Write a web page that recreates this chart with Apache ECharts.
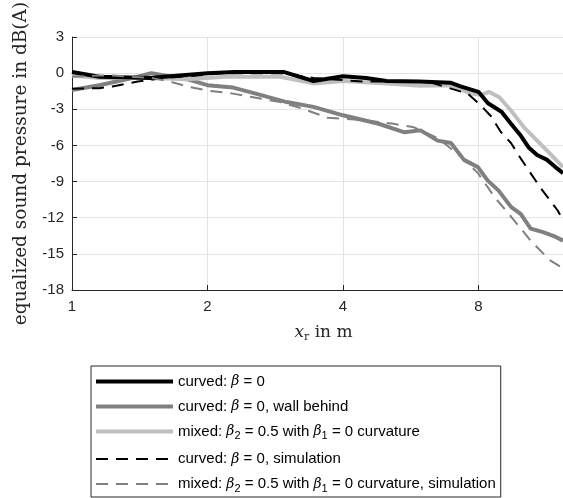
<!DOCTYPE html>
<html>
<head>
<meta charset="utf-8">
<script src="https://cdn.jsdelivr.net/npm/echarts@6/dist/echarts.min.js"></script>
<style>
  html, body { margin: 0; padding: 0; background: #fff; }
  #chart { width: 563px; height: 498px; }
</style>
</head>
<body>
<div id="chart"></div>
<script>
// x in m (log axis), y in dB
const curvedX = [1, 1.15, 1.49, 1.6, 2, 2.3, 2.6, 2.95, 3.44, 4.0, 4.5, 5.0, 5.9, 6.95, 7.3, 8.0, 8.4, 9.0, 9.45, 9.94, 10.36, 10.8, 11.37, 11.86, 12.33];
const curvedY = [0.1, -0.3, -0.4, -0.3, 0.0, 0.1, 0.1, 0.1, -0.65, -0.25, -0.4, -0.65, -0.7, -0.8, -1.1, -1.55, -2.5, -3.2, -4.2, -5.2, -6.2, -6.8, -7.2, -7.8, -8.3];

const wallX = [1, 1.15, 1.4, 1.5, 1.8, 2.0, 2.28, 2.5, 3.0, 3.44, 4.0, 4.8, 5.46, 5.95, 6.49, 6.95, 7.43, 7.98, 8.38, 8.87, 9.45, 9.94, 10.45, 11.13, 11.73, 12.33];
const wallY = [-1.4, -1.0, -0.3, 0.0, -0.5, -1.0, -1.2, -1.6, -2.4, -2.8, -3.5, -4.2, -4.9, -4.75, -5.6, -5.8, -7.2, -7.8, -8.9, -9.75, -11.1, -11.7, -12.9, -13.2, -13.5, -13.9];

const mixedX = [1, 1.15, 1.5, 1.8, 2.2, 2.9, 3.44, 4.0, 5.0, 5.95, 6.95, 7.7, 8.1, 8.44, 8.9, 9.45, 10.1, 10.8, 11.55, 12.33];
const mixedY = [-0.2, -0.4, -0.4, -0.5, -0.3, -0.3, -0.85, -0.65, -0.85, -1.05, -1.0, -1.7, -1.8, -1.55, -2.0, -3.1, -4.5, -5.6, -6.7, -7.8];

const curvedSimX = [1, 1.15, 1.23, 1.4, 1.6, 1.9, 2.14, 2.9, 3.44, 4.44, 6.17, 7.57, 8.11, 8.54, 8.98, 9.45, 9.94, 10.36, 10.98, 12.0, 12.33];
const curvedSimY = [-1.3, -1.25, -1.1, -0.7, -0.4, -0.2, 0.0, 0.0, -0.4, -0.7, -0.7, -1.7, -2.7, -3.6, -4.9, -5.8, -7.1, -8.1, -9.5, -11.4, -12.2];

const mixedSimX = [1, 1.15, 1.23, 1.5, 1.65, 1.8, 2.0, 2.28, 2.9, 3.22, 3.7, 4.44, 5.18, 5.75, 6.5, 7.3, 7.98, 8.69, 9.45, 10.45, 11.5, 12.33];
const mixedSimY = [-0.3, -0.2, -0.2, -0.4, -0.7, -1.1, -1.45, -1.7, -2.4, -2.9, -3.7, -3.9, -4.2, -4.5, -5.4, -6.9, -8.3, -10.3, -11.9, -13.9, -15.5, -16.2];

const seriesNames = [
  'curved: β = 0',
  'curved: β = 0, wall behind',
  'mixed: β2 = 0.5 with β1 = 0 curvature',
  'curved: β = 0, simulation',
  'mixed: β2 = 0.5 with β1 = 0 curvature, simulation'
];
const legendLabels = {
  'curved: β = 0': 'curved: {b|β} = 0',
  'curved: β = 0, wall behind': 'curved: {b|β} = 0, wall behind',
  'mixed: β2 = 0.5 with β1 = 0 curvature': 'mixed: {b|β}{s|2} = 0.5 with {b|β}{s|1} = 0 curvature',
  'curved: β = 0, simulation': 'curved: {b|β} = 0, simulation',
  'mixed: β2 = 0.5 with β1 = 0 curvature, simulation': 'mixed: {b|β}{s|2} = 0.5 with {b|β}{s|1} = 0 curvature, simulation'
};

function pairs(xs, ys) {
  return xs.map((x, i) => [x, ys[i]]);
}

function lineSeries(name, xs, ys, color, width, dashed, z) {
  return {
    name: name,
    type: 'line',
    data: pairs(xs, ys),
    symbol: 'none',
    z: z,
    lineStyle: { color: color, width: width, type: dashed ? [12, 8] : 'solid' },
    itemStyle: { color: color }
  };
}

const axisColor = '#262626';
const chart = echarts.init(document.getElementById('chart'));
chart.setOption({
  animation: false,
  textStyle: { fontFamily: 'Liberation Sans' },
  grid: { left: 72, top: 37, width: 491, height: 253, outerBoundsMode: 'none', containLabel: false },
  xAxis: {
    type: 'log',
    logBase: 2,
    min: 1,
    max: 12.33,
    name: '{i|x}{s|r} in m',
    nameLocation: 'middle',
    nameGap: 32,
    nameTextStyle: {
      fontFamily: 'DejaVu Serif', fontSize: 17, color: axisColor, padding: [0, 0, 0, 12],
      rich: {
        i: { fontFamily: 'DejaVu Serif', fontStyle: 'italic', fontSize: 17, color: axisColor },
        s: { fontFamily: 'DejaVu Serif', fontSize: 11, color: axisColor, verticalAlign: 'bottom', padding: [10, 0, 0, 0] }
      }
    },
    axisLine: { show: true, onZero: false, lineStyle: { color: axisColor, width: 1 } },
    axisTick: { show: true, inside: true, length: 5, lineStyle: { color: axisColor } },
    axisLabel: { color: axisColor, fontSize: 15, margin: 9, showMaxLabel: false },
    splitLine: { show: true, lineStyle: { color: '#e3e3e3', width: 1 } }
  },
  yAxis: {
    type: 'value',
    min: -18,
    max: 3,
    interval: 3,
    name: 'equalized sound pressure in dB(A)',
    nameLocation: 'middle',
    nameGap: 41,
    nameTextStyle: { fontFamily: 'DejaVu Serif', fontSize: 18.5, color: axisColor },
    axisLine: { show: true, onZero: false, lineStyle: { color: axisColor, width: 1 } },
    axisTick: { show: true, inside: true, length: 5, lineStyle: { color: axisColor } },
    axisLabel: { color: axisColor, fontSize: 15, margin: 8 },
    splitLine: { show: true, lineStyle: { color: '#e3e3e3', width: 1 } }
  },
  legend: {
    data: seriesNames,
    orient: 'vertical',
    left: 91,
    top: 366,
    height: 200,
    padding: [8, 5, 3, 3],
    itemWidth: 77,
    itemHeight: 14,
    itemGap: 10,
    borderColor: axisColor,
    borderWidth: 1,
    backgroundColor: '#fff',
    itemStyle: { color: 'transparent', borderWidth: 0, opacity: 0 },
    lineStyle: { width: 'inherit' },
    formatter: name => legendLabels[name],
    textStyle: {
      fontSize: 15,
      color: '#000',
      rich: {
        b: { fontFamily: 'DejaVu Serif', fontStyle: 'italic', fontSize: 14, color: '#000' },
        s: { fontSize: 11, color: '#000', verticalAlign: 'bottom', padding: [9, 0, 0, 0] }
      }
    }
  },
  series: [
    lineSeries(seriesNames[0], curvedX, curvedY, '#000000', 4, false, 4),
    lineSeries(seriesNames[1], wallX, wallY, '#808080', 4, false, 2),
    lineSeries(seriesNames[2], mixedX, mixedY, '#bfbfbf', 4, false, 3),
    lineSeries(seriesNames[3], curvedSimX, curvedSimY, '#000000', 2, true, 5),
    lineSeries(seriesNames[4], mixedSimX, mixedSimY, '#808080', 2, true, 6)
  ]
});
</script>
</body>
</html>
